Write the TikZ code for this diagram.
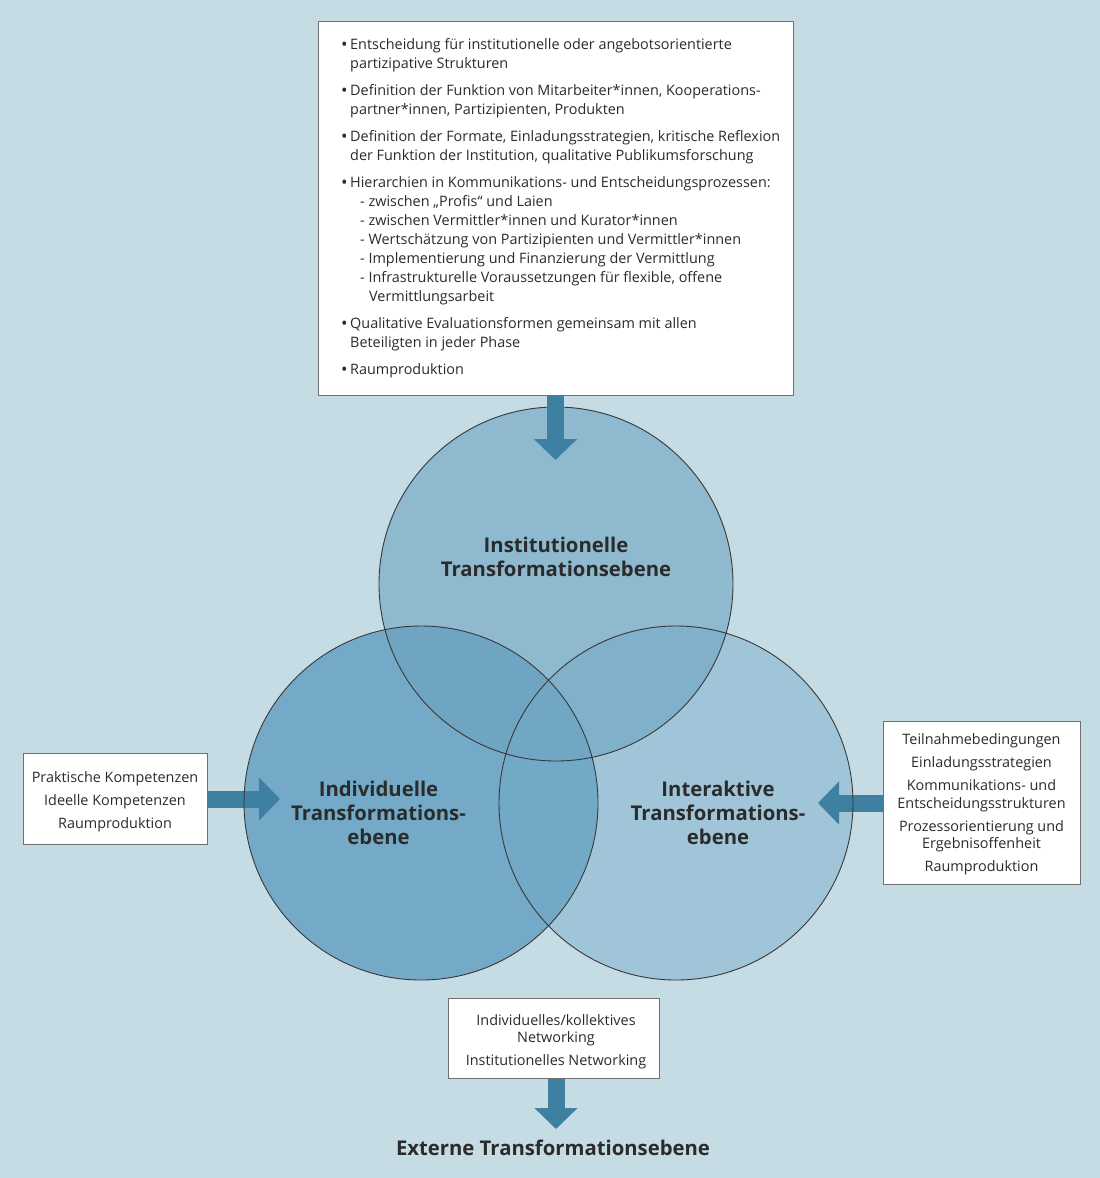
\documentclass[tikz,border=0pt]{standalone}
\usepackage{fontspec}
\setmainfont{Open Sans}
\usetikzlibrary{arrows.meta}
\definecolor{bg}{HTML}{C5DCE5}
\definecolor{ctop}{HTML}{8FB9CF}
\definecolor{cleft}{HTML}{74AAC7}
\definecolor{cright}{HTML}{A1C5D8}
\definecolor{ctl}{HTML}{6FA5C3}
\definecolor{ctr}{HTML}{80B0CA}
\definecolor{clr}{HTML}{72A9C6}
\definecolor{ctlr}{HTML}{71A7C5}
\definecolor{arr}{HTML}{3E80A1}
\definecolor{boxline}{HTML}{707070}
\definecolor{txt}{HTML}{2B2B2B}
\newcommand\mybul{\makebox[9pt][l]{\raisebox{-0.9pt}{\scalebox{1.2}{•}}}}
\newcommand\myind{\hspace*{9pt}}
\newcommand\mysub{\hspace*{19pt}}
\newcommand\mysubb{\hspace*{28pt}}
\begin{document}
\begin{tikzpicture}[x=1pt,y=-1pt,
  infobox/.style={draw=boxline, line width=1pt, fill=white, inner sep=0pt},
  boxtext/.style={font=\fontsize{14.4}{17.5}\selectfont, text=txt, align=center, inner sep=0pt},
  toptext/.style={font=\fontsize{14.4}{19}\selectfont, text=txt, align=left, inner sep=0pt},
  title/.style={font=\fontsize{20.3}{24}\selectfont\bfseries, text=txt, align=center, inner sep=0pt},
  bigarrow/.style={draw=arr, line width=17pt, -{Triangle[width=42pt,length=21pt]}},
  ring/.style={draw=black!78, line width=0.9pt}]
\useasboundingbox (0,0) rectangle (1100,1178);
\fill[bg] (0,0) rectangle (1100,1178);
% circles
\coordinate (ct) at (556,584);
\coordinate (cl) at (421,803);
\coordinate (cr) at (676,803);
\fill[ctop] (ct) circle[radius=177pt];
\fill[cleft] (cl) circle[radius=177pt];
\fill[cright] (cr) circle[radius=177pt];
\begin{scope}
  \clip (cl) circle[radius=177pt];
  \fill[clr] (cr) circle[radius=177pt];
\end{scope}
\begin{scope}
  \clip (ct) circle[radius=177pt];
  \fill[ctl] (cl) circle[radius=177pt];
  \fill[ctr] (cr) circle[radius=177pt];
  \clip (cl) circle[radius=177pt];
  \fill[ctlr] (cr) circle[radius=177pt];
\end{scope}
% boxes
\node[infobox, minimum width=475pt, minimum height=374pt] (topbox) at (555.5,208) {};
\node[toptext, anchor=north west] (tt) at (341,38) {%
\mybul Entscheidung für institutionelle oder angebotsorientierte\\
\myind partizipative Strukturen\\[8pt]
\mybul Definition der Funktion von Mitarbeiter*innen, Kooperations-\\
\myind partner*innen, Partizipienten, Produkten\\[8pt]
\mybul Definition der Formate, Einladungsstrategien, kritische Reflexion\\
\myind der Funktion der Institution, qualitative Publikumsforschung\\[8pt]
\mybul Hierarchien in Kommunikations- und Entscheidungsprozessen:\\
\mysub - zwischen „Profis“ und Laien\\
\mysub - zwischen Vermittler*innen und Kurator*innen\\
\mysub - Wertschätzung von Partizipienten und Vermittler*innen\\
\mysub - Implementierung und Finanzierung der Vermittlung\\
\mysub - Infrastrukturelle Voraussetzungen für flexible, offene\\
\mysubb Vermittlungsarbeit\\[8pt]
\mybul Qualitative Evaluationsformen gemeinsam mit allen\\
\myind Beteiligten in jeder Phase\\[8pt]
\mybul Raumproduktion};
\node[infobox, minimum width=184pt, minimum height=91pt] (lb) at (115,798.5) {};
\node[boxtext, font=\fontsize{14.4}{23}\selectfont] (lbt) at (115,801.5)
  {Praktische Kompetenzen\\Ideelle Kompetenzen\\Raumproduktion};
\node[infobox, minimum width=197pt, minimum height=163pt] (rb) at (981.5,803.4) {};
\node[boxtext] (rbt) at (981.5,804.4)
  {Teilnahmebedingungen\\[5.5pt]Einladungsstrategien\\[5.5pt]Kommunikations- und\\Entscheidungsstrukturen\\[5.5pt]Prozessorientierung und\\Ergebnisoffenheit\\[5.5pt]Raumproduktion};
\node[infobox, minimum width=211pt, minimum height=80pt] (bb) at (553.5,1038) {};
\node[boxtext] (bbt) at (556,1041.5)
  {Individuelles/kollektives\\Networking\\[5.5pt]Institutionelles Networking};
% titles
\node[title] (tInst) at (556,556.5) {Institutionelle\\Transformationsebene};
\node[title] (tInd) at (378.5,813) {Individuelle\\Transformations-\\ebene};
\node[title] (tInt) at (718,813) {Interaktive\\Transformations-\\ebene};
\node[title] (tExt) at (553,1147.5) {Externe Transformationsebene};
% arrows
\coordinate (aLeft) at (280,799);
\coordinate (aRight) at (818,803);
\coordinate (aBot) at (556,1129);
\coordinate (aTop) at (555.5,460);
\draw[bigarrow] (lb.east |- aLeft) -- (aLeft);
\draw[bigarrow] (rb.west |- aRight) -- (aRight);
\draw[bigarrow] (bb.south -| aBot) -- (aBot);
% outlines
\draw[ring] (ct) circle[radius=177pt];
\draw[ring] (cl) circle[radius=177pt];
\draw[ring] (cr) circle[radius=177pt];
\draw[bigarrow] (topbox.south) -- (aTop);
\end{tikzpicture}
\end{document}
